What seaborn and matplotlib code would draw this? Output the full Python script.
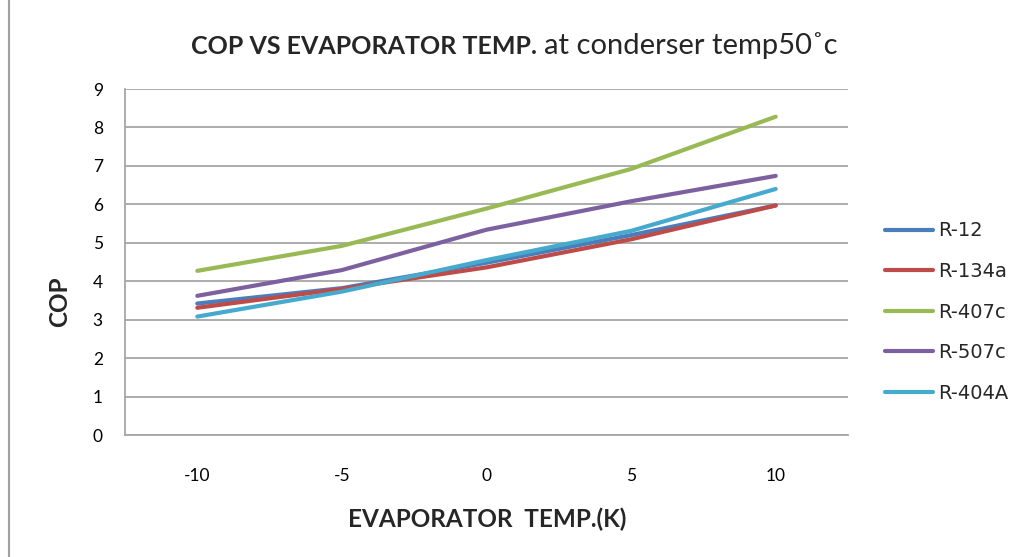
import matplotlib
matplotlib.use("Agg")
import matplotlib.pyplot as plt
import seaborn as sns
import pandas as pd
from matplotlib.lines import Line2D

# ---- data ----
evap_temp = [-10, -5, 0, 5, 10]
r12 = [3.42, 3.82, 4.48, 5.20, 5.97]
r134a = [3.31, 3.80, 4.36, 5.09, 5.97]
r407c = [4.27, 4.92, 5.89, 6.92, 8.28]
r507c = [3.62, 4.29, 5.34, 6.08, 6.74]
r404a = [3.08, 3.73, 4.55, 5.31, 6.40]
series_names = ["R-12", "R-134a", "R-407c", "R-507c", "R-404A"]
y_ticks = [0, 1, 2, 3, 4, 5, 6, 7, 8, 9]
x_ticks = [-10, -5, 0, 5, 10]

colors = ["#4A7EBB", "#BE4B48", "#98B954", "#7D60A0", "#46AACE"]

rows = []
for name, vals in zip(series_names, [r12, r134a, r407c, r507c, r404a]):
    for t, v in zip(evap_temp, vals):
        rows.append({"temp": t, "cop": v, "ref": name})
df = pd.DataFrame(rows)

sns.set_style("white")
plt.rcParams["font.family"] = ["Lato", "DejaVu Sans"]

W, H = 1022, 557
fig = plt.figure(figsize=(W / 100, H / 100), dpi=100)
ax = fig.add_axes([125 / W, (H - 435) / H, (848 - 125) / W, (435 - 89) / H])

sns.lineplot(data=df, x="temp", y="cop", hue="ref", palette=colors,
             hue_order=series_names, linewidth=3.0, ax=ax, legend=False,
             solid_capstyle="round")

ax.set_xlim(-12.5, 12.5)
ax.set_ylim(0, 9)
ax.set_yticks(y_ticks)
ax.set_xticks(x_ticks)
ax.set_xticklabels([str(t) for t in x_ticks])
ax.yaxis.grid(True, color="#A6A6A6", linewidth=1.3)
ax.xaxis.grid(False)
ax.set_axisbelow(True)
ax.tick_params(axis="both", length=0, labelsize=12.5, colors="#000000")
ax.tick_params(axis="y", pad=16)
ax.tick_params(axis="x", pad=24)
for s in ["top", "right"]:
    ax.spines[s].set_visible(False)
ax.spines["left"].set_color("#A6A6A6")
ax.spines["left"].set_linewidth(1.3)
ax.spines["bottom"].set_color("#A6A6A6")
ax.spines["bottom"].set_linewidth(1.3)
ax.set_xlabel("")
ax.set_ylabel("")

# axis titles
fig.text(487 / W, 1 - 519 / H, "EVAPORATOR  TEMP.(K)", ha="center", va="center",
         fontsize=17.5, fontweight="bold")
fig.text(60 / W, 1 - 302 / H, "COP", ha="center", va="center", rotation=90,
         fontsize=17.5, fontweight="bold")

# title (bold part + regular part)
fig.text(537 / W, 1 - 46 / H, "COP VS EVAPORATOR TEMP.", ha="right", va="center",
         fontsize=18, fontweight="bold")
fig.text(544 / W, 1 - 46 / H, "at conderser temp50˚c", ha="left", va="center",
         fontsize=21)

# legend
handles = [Line2D([0], [0], color=c, linewidth=3.0, solid_capstyle="round") for c in colors]
leg = fig.legend(handles, series_names, loc="center left",
                 bbox_to_anchor=(885 / W, 1 - 312 / H), frameon=False,
                 prop={"family": "DejaVu Sans", "size": 14},
                 handlelength=2.45, handletextpad=0.26, labelspacing=1.11,
                 borderaxespad=0, borderpad=0)

# chart frame left border
fig.add_artist(Line2D([8.5 / W, 8.5 / W], [0, 1], transform=fig.transFigure,
                      color="#A0A0A0", linewidth=1.5))

fig.savefig("out.png", dpi=100, facecolor="white")
